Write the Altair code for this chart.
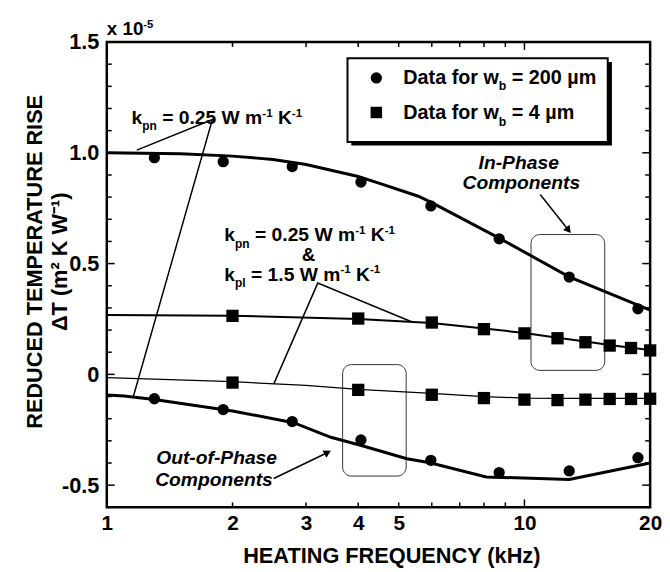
import altair as alt
import pandas as pd

FONT = "Liberation Sans"

# ---------------- data (x 1e-5 m^2 K/W) ----------------
# w_b = 200 um  (circles)
freq_200 = [1.3, 1.9, 2.78, 4.06, 5.97, 8.7, 12.8, 18.7]
in_200 = [0.978, 0.960, 0.938, 0.868, 0.760, 0.612, 0.439, 0.296]
out_200 = [-0.110, -0.159, -0.213, -0.296, -0.388, -0.443, -0.436, -0.376]

# w_b = 4 um  (squares)
freq_4 = [2, 4, 6, 8, 10, 12, 14, 16, 18, 20]
in_4 = [0.264, 0.252, 0.234, 0.204, 0.185, 0.163, 0.145, 0.130, 0.119, 0.108]
out_4 = [-0.037, -0.070, -0.092, -0.107, -0.114, -0.116, -0.114, -0.111, -0.111, -0.110]

# model curves
fit_in_a_f = [1, 1.5, 2, 2.5, 3, 4, 4.5, 5.57, 6, 8.7, 12.8, 20]
fit_in_a_v = [1.0, 0.996, 0.985, 0.97, 0.947, 0.893, 0.862, 0.804, 0.775, 0.615, 0.44, 0.29]
fit_out_a_f = [1, 1.1, 1.3, 2, 2.8, 3.44, 4.07, 5.23, 5.94, 8.1, 12.8, 20]
fit_out_a_v = [-0.093, -0.098, -0.113, -0.165, -0.218, -0.284, -0.321, -0.381, -0.399, -0.463, -0.474, -0.40]
fit_in_b_f = [1, 2, 4, 6, 8, 10, 12, 14, 16, 18, 20]
fit_in_b_v = [0.268, 0.265, 0.250, 0.232, 0.207, 0.187, 0.165, 0.148, 0.133, 0.120, 0.110]
fit_out_b_f = [1, 2, 3, 4, 6, 8, 10, 12, 20]
fit_out_b_v = [-0.015, -0.033, -0.050, -0.068, -0.086, -0.100, -0.107, -0.108, -0.108]

# axis ticks
x_labels = [1, 2, 3, 4, 5, 10, 20]
x_ticks = [2, 3, 4, 5, 6, 7, 8, 9]
x_major = [10]
y_labels = [-0.5, 0, 0.5, 1.0, 1.5]
y_minor = [-0.6, -0.4, -0.3, -0.2, -0.1, 0.1, 0.2, 0.3, 0.4, 0.6, 0.7, 0.8, 0.9, 1.1, 1.2, 1.3, 1.4]

# annotation geometry (data coordinates)
ptr1_f = [1.18, 1.79, 1.158]
ptr1_v = [1.012, 1.15, -0.099]
ptr2_f = [5.42, 3.20, 2.51]
ptr2_v = [0.234, 0.412, -0.044]
arr_in_f = [10.91, 12.7]
arr_in_v = [0.812, 0.655]
arr_out_f = [2.51, 3.36]
arr_out_v = [-0.47, -0.355]
box_in = dict(f1=10.37, f2=15.57, v1=0.018, v2=0.631)
box_out = dict(f1=3.67, f2=5.21, v1=-0.459, v2=0.044)
leg_box = dict(f1=3.77, f2=15.83, v1=1.049, v2=1.427)
leg_shadow = dict(f1=3.85, f2=16.2, v1=1.033, v2=1.41)

W, H = 550, 471

X_AXIS = alt.Axis(values=x_labels, labelExpr="format(datum.value, 'd')", labelFont=FONT,
                  labelFontWeight="bold", labelFontSize=21, labelColor="black", labelPadding=5,
                  labelFlush=False, ticks=False, domain=False, grid=False,
                  title="HEATING FREQUENCY (kHz)", titleFont=FONT, titleFontWeight="bold",
                  titleFontSize=22, titleColor="black", titleX=288, titleY=56,
                  titleAlign="center", titleBaseline="alphabetic", titleAnchor="start")
Y_AXIS = alt.Axis(values=y_labels,
                  labelExpr="datum.value == 0 ? '0' : replace(format(datum.value, '.1f'), '\u2212', '-')",
                  labelFont=FONT, labelFontWeight="bold", labelFontSize=22, labelColor="black",
                  labelPadding=8, ticks=False, domain=False, grid=False,
                  title=["REDUCED TEMPERATURE RISE", "\u0394T (m\u00b2 K W\u207b\u00b9)"],
                  titleFont=FONT, titleFontWeight="bold", titleFontSize=22, titleColor="black",
                  titleAngle=270, titleX=-66, titleY=222, titleAlign="center",
                  titleBaseline="alphabetic", titleLineHeight=25, titleAnchor="start")

XS = alt.Scale(type="log", domain=[1, 20], nice=False)
YS = alt.Scale(domain=[-0.6, 1.5], nice=False, zero=False)


def X(field="f"):
    return alt.X(f"{field}:Q", scale=XS, axis=X_AXIS)


def Y(field="v"):
    return alt.Y(f"{field}:Q", scale=YS, axis=Y_AXIS)


def df(f, v):
    return pd.DataFrame({"f": f, "v": v})


layers = []

# rounded boxes
for b in (box_in, box_out):
    layers.append(alt.Chart(pd.DataFrame([b])).mark_rect(
        fillOpacity=0, stroke="#333", strokeWidth=1, cornerRadius=9).encode(
        x=alt.X("f1:Q", scale=XS, axis=X_AXIS), x2="f2:Q",
        y=alt.Y("v1:Q", scale=YS, axis=Y_AXIS), y2="v2:Q"))

# model lines
for ff, vv, sw in ((fit_in_a_f, fit_in_a_v, 3), (fit_out_a_f, fit_out_a_v, 3),
                   (fit_in_b_f, fit_in_b_v, 2), (fit_out_b_f, fit_out_b_v, 1.3)):
    layers.append(alt.Chart(df(ff, vv)).mark_line(color="black", strokeWidth=sw).encode(
        x=X(), y=Y(), order="f:Q"))

# pointer lines
for ff, vv in ((ptr1_f, ptr1_v), (ptr2_f, ptr2_v), (arr_in_f, arr_in_v), (arr_out_f, arr_out_v)):
    d = df(ff, vv)
    d["i"] = range(len(d))
    layers.append(alt.Chart(d).mark_line(color="black", strokeWidth=1.5).encode(
        x=X(), y=Y(), order="i:Q"))

# arrowheads
for ff, vv, ang in ((arr_in_f, arr_in_v, 142), (arr_out_f, arr_out_v, 63)):
    layers.append(alt.Chart(df(ff[-1:], vv[-1:])).mark_point(
        shape="triangle", filled=True, color="black", opacity=1, size=70, angle=ang).encode(
        x=X(), y=Y()))

# data points
for ff, vv in ((freq_200, in_200), (freq_200, out_200)):
    layers.append(alt.Chart(df(ff, vv)).mark_point(
        shape="circle", filled=True, color="black", opacity=1, size=130).encode(x=X(), y=Y()))
for ff, vv in ((freq_4, in_4), (freq_4, out_4)):
    layers.append(alt.Chart(df(ff, vv)).mark_point(
        shape="square", filled=True, color="black", opacity=1, size=155).encode(x=X(), y=Y()))

# legend box with shadow
layers.append(alt.Chart(pd.DataFrame([leg_shadow])).mark_rect(fill="black").encode(
    x=alt.X("f1:Q", scale=XS, axis=X_AXIS), x2="f2:Q",
    y=alt.Y("v1:Q", scale=YS, axis=Y_AXIS), y2="v2:Q"))
layers.append(alt.Chart(pd.DataFrame([leg_box])).mark_rect(
    fill="white", stroke="black", strokeWidth=2).encode(
    x=alt.X("f1:Q", scale=XS, axis=X_AXIS), x2="f2:Q",
    y=alt.Y("v1:Q", scale=YS, axis=Y_AXIS), y2="v2:Q"))
layers.append(alt.Chart(df([4.42], [1.338])).mark_point(
    shape="circle", filled=True, color="black", opacity=1, size=130).encode(x=X(), y=Y()))
layers.append(alt.Chart(df([4.42], [1.182])).mark_point(
    shape="square", filled=True, color="black", opacity=1, size=135).encode(x=X(), y=Y()))

# ---------- rich text helper ----------
MET = {' ': 278, 'x': 556, '.': 278, '=': 584, 'W': 944, 'm': 889, 'K': 722, 'k': 556,
       'p': 611, 'n': 611, 'l': 278, '-': 333, 'D': 722, 'a': 556, 't': 333, 'f': 333,
       'o': 611, 'r': 389, 'w': 778, 'b': 611, '\u00b5': 611, '&': 722}


def tw(s, size):
    return sum(MET.get(c, 556) for c in s) * size / 1000.0


def rich(f, v, segs, size, italic=False, align="left"):
    pieces = []
    x = 0.0
    for t, kind in segs:
        if kind == "n":
            fs, dy = size, 0
        elif kind == "sub":
            fs, dy = size * 0.62, size * 0.32
        else:
            fs, dy = size * 0.6, -size * 0.4
        lead = len(t) - len(t.lstrip(" "))
        pieces.append((t.lstrip(" "), x + tw(" " * lead, fs), dy, fs))
        x += tw(t, fs)
    shift = -x / 2 if align == "center" else 0
    out = []
    for t, px, dy, fs in pieces:
        out.append(alt.Chart(pd.DataFrame({"f": [f], "v": [v], "t": [t]})).mark_text(
            align="left", baseline="alphabetic", dx=px + shift, dy=dy, fontSize=fs,
            font=FONT, fontWeight="bold", fontStyle="italic" if italic else "normal",
            color="black").encode(x=X(), y=Y(), text="t:N"))
    return out


kpn = [("k", "n"), ("pn", "sub"), (" = 0.25 W m", "n"), ("-1", "sup"), (" K", "n"), ("-1", "sup")]
kpl = [("k", "n"), ("pl", "sub"), (" = 1.5 W m", "n"), ("-1", "sup"), (" K", "n"), ("-1", "sup")]

layers += rich(1.0, 1.53, [("x 10", "n"), ("-5", "sup")], 19)
layers += rich(1.146, 1.129, kpn, 19.5)
layers += rich(1.912, 0.60, kpn, 19.5)
layers += rich(3.04, 0.512, [("&", "n")], 19, align="center")
layers += rich(1.912, 0.422, kpl, 19.5)
layers += rich(9.75, 0.929, [("In-Phase", "n")], 19.5, italic=True, align="center")
layers += rich(9.75, 0.836, [("Components", "n")], 19.5, italic=True, align="center")
layers += rich(1.79, -0.404, [("Out-of-Phase", "n")], 19.5, italic=True, align="center")
layers += rich(1.79, -0.502, [("Components", "n")], 19.5, italic=True, align="center")
layers += rich(5.13, 1.311, [("Data for w", "n"), ("b", "sub"), (" = 200 \u00b5m", "n")], 20)
layers += rich(5.13, 1.151, [("Data for w", "n"), ("b", "sub"), (" = 4 \u00b5m", "n")], 20)

# ---------- inward ticks ----------
def ytick(vals, length):
    d = pd.DataFrame({"v": vals})
    return [
        alt.Chart(d).mark_rule(color="black", strokeWidth=1.5).encode(
            y=Y(), x=alt.value(0), x2=alt.value(length)),
        alt.Chart(d).mark_rule(color="black", strokeWidth=1.5).encode(
            y=Y(), x=alt.value(W - length), x2=alt.value(W)),
    ]


def xtick(vals, length):
    d = pd.DataFrame({"f": vals})
    return [
        alt.Chart(d).mark_rule(color="black", strokeWidth=1.5).encode(
            x=X(), y=alt.value(0), y2=alt.value(length)),
        alt.Chart(d).mark_rule(color="black", strokeWidth=1.5).encode(
            x=X(), y=alt.value(H - length), y2=alt.value(H)),
    ]


layers += ytick(y_labels, 8) + ytick(y_minor, 5) + xtick(x_ticks, 5) + xtick(x_major, 8)

chart = alt.layer(*layers).properties(
    width=W, height=H, autosize="none",
    padding={"left": 100, "top": 31, "right": 12, "bottom": 58},
    background="white",
).configure_view(stroke="black", strokeWidth=2.5)

chart.save("out.html", embed_options={"renderer": "svg", "actions": False})
